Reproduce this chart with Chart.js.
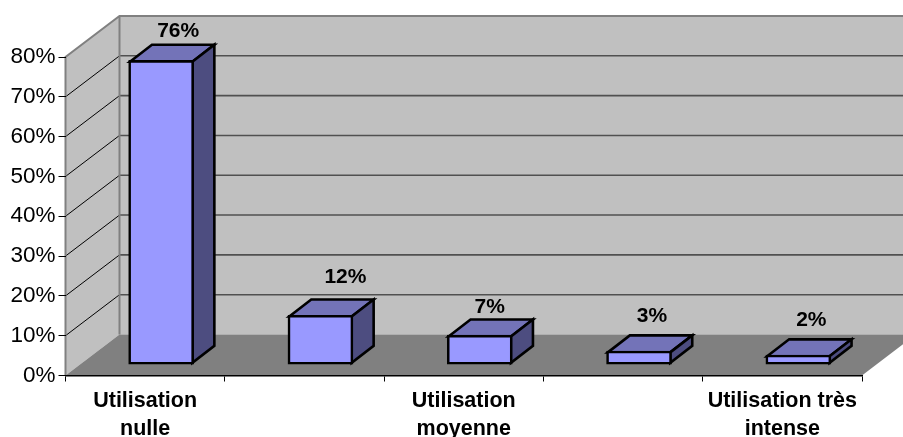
<!DOCTYPE html>
<html>
<head>
<meta charset="utf-8">
<style>html,body{margin:0;padding:0;background:#fff}canvas{display:block}</style>
<script src="https://cdn.jsdelivr.net/npm/chart.js@4"></script>
</head>
<body>
<canvas id="c" width="903" height="437"></canvas>
<script>
const categories = [['Utilisation','nulle'], '', ['Utilisation','moyenne'], '', ['Utilisation très','intense']];
const values = [76, 12, 7, 3, 2];
const valueLabels = ['76%', '12%', '7%', '3%', '2%'];
const labelShiftX = [6, 14, -1, 2, 2];
const labelLift = [12, 21, 11, 18, 18];

const FONT = '"Liberation Sans", Arial, sans-serif';
const WALL = {dx: 54, dy: -41};
const BAR = {dx: 16, dy: -12.5, depthX: 22, depthY: -17, stroke: 2.6};

const plugin3d = {
  id: 'plugin3d',
  beforeDraw(chart) {
    const {ctx, scales: {x, y}} = chart;
    const L = x.left, R = x.right, B = y.bottom, T = y.top;
    ctx.save();
    ctx.fillStyle = '#C0C0C0';
    ctx.beginPath();
    ctx.moveTo(L, T); ctx.lineTo(L + WALL.dx, T + WALL.dy);
    ctx.lineTo(R + WALL.dx, T + WALL.dy); ctx.lineTo(R + WALL.dx, B + WALL.dy);
    ctx.lineTo(L + WALL.dx, B + WALL.dy); ctx.lineTo(L, B);
    ctx.closePath(); ctx.fill();
    ctx.fillStyle = '#808080';
    ctx.beginPath();
    ctx.moveTo(L, B); ctx.lineTo(L + WALL.dx, B + WALL.dy);
    ctx.lineTo(R + WALL.dx, B + WALL.dy); ctx.lineTo(R, B);
    ctx.closePath(); ctx.fill();
    y.ticks.forEach(t => {
      const py = y.getPixelForValue(t.value);
      if (t.value > 0 && t.value < 80) {
        ctx.strokeStyle = '#000'; ctx.lineWidth = 1;
        ctx.beginPath(); ctx.moveTo(L, py); ctx.lineTo(L + WALL.dx, py + WALL.dy); ctx.stroke();
        ctx.strokeStyle = '#505050'; ctx.lineWidth = 1.6;
        ctx.beginPath(); ctx.moveTo(L + WALL.dx, py + WALL.dy); ctx.lineTo(R + WALL.dx, py + WALL.dy); ctx.stroke();
      }
    });
    ctx.strokeStyle = '#808080'; ctx.lineWidth = 2;
    ctx.beginPath();
    ctx.moveTo(L, B); ctx.lineTo(L, T); ctx.lineTo(L + WALL.dx, T + WALL.dy);
    ctx.lineTo(R + WALL.dx, T + WALL.dy);
    ctx.moveTo(L + WALL.dx, T + WALL.dy); ctx.lineTo(L + WALL.dx, B + WALL.dy);
    ctx.stroke();
    ctx.restore();
  },
  beforeDatasetDraw(chart, args) {
    const {ctx} = chart;
    const meta = chart.getDatasetMeta(args.index);
    const inset = BAR.stroke / 2;
    ctx.save();
    ctx.translate(BAR.dx, BAR.dy);
    ctx.lineJoin = 'miter';
    meta.data.forEach(el => {
      const l = el.x - el.width / 2 + inset, r = el.x + el.width / 2 - inset;
      const t = el.y + inset, b = el.base - inset;
      const ddx = BAR.depthX, ddy = BAR.depthY;
      ctx.strokeStyle = '#000'; ctx.lineWidth = BAR.stroke;
      ctx.fillStyle = '#7373B8';
      ctx.beginPath();
      ctx.moveTo(l, t); ctx.lineTo(l + ddx, t + ddy); ctx.lineTo(r + ddx, t + ddy); ctx.lineTo(r, t);
      ctx.closePath(); ctx.fill(); ctx.stroke();
      ctx.fillStyle = '#4D4D80';
      ctx.beginPath();
      ctx.moveTo(r, t); ctx.lineTo(r + ddx, t + ddy); ctx.lineTo(r + ddx, b + ddy); ctx.lineTo(r, b);
      ctx.closePath(); ctx.fill(); ctx.stroke();
    });
  },
  afterDatasetDraw(chart, args) {
    const {ctx} = chart;
    ctx.restore();
    const meta = chart.getDatasetMeta(args.index);
    ctx.save();
    ctx.fillStyle = '#000';
    ctx.font = 'bold 21px ' + FONT;
    ctx.textAlign = 'center';
    ctx.textBaseline = 'middle';
    meta.data.forEach((el, i) => {
      const px = el.x + BAR.dx + BAR.depthX / 2 + labelShiftX[i];
      const py = el.y + BAR.dy + BAR.depthY - labelLift[i];
      ctx.fillText(valueLabels[i], px, py);
    });
    ctx.restore();
  }
};

new Chart(document.getElementById('c'), {
  type: 'bar',
  data: {
    labels: categories,
    datasets: [{
      data: values,
      base: -0.3,
      clip: false,
      backgroundColor: '#9999FF',
      borderColor: '#000',
      borderWidth: 2.6,
      borderSkipped: false,
      barThickness: 65
    }]
  },
  plugins: [plugin3d],
  options: {
    responsive: false,
    devicePixelRatio: 1,
    animation: false,
    events: [],
    layout: {padding: {top: 57, right: 41, left: 0, bottom: 0}},
    plugins: {legend: {display: false}, tooltip: {enabled: false}, title: {display: false}},
    scales: {
      x: {
        grid: {drawOnChartArea: false, drawTicks: true, tickLength: 6, color: '#000', offset: true},
        border: {display: true, color: '#000', width: 1.5},
        ticks: {
          autoSkip: false, maxRotation: 0, minRotation: 0, color: '#000', padding: 6,
          font: {family: FONT, size: 21.5, weight: 'bold', lineHeight: 1.28}
        },
        afterFit(s) { s.height = 61.5; }
      },
      y: {
        min: 0, max: 80,
        grid: {drawOnChartArea: false, drawTicks: true, tickLength: 7, color: '#000'},
        border: {display: false},
        ticks: {
          stepSize: 10, color: '#000', padding: 3,
          font: {family: FONT, size: 22.5},
          callback: v => v + '%'
        },
        afterFit(s) { s.width = 65.5; }
      }
    }
  }
});
</script>
</body>
</html>
